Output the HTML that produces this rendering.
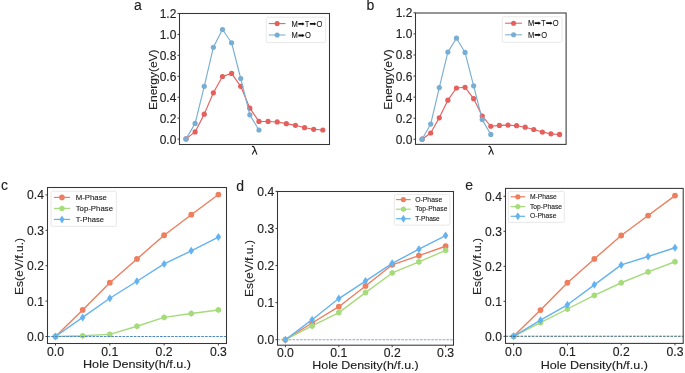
<!DOCTYPE html>
<html><head><meta charset="utf-8"><style>
html,body{margin:0;padding:0;background:#fff;}
body{width:685px;height:373px;overflow:hidden;}
svg{display:block;font-family:"Liberation Sans", sans-serif;will-change:transform;}
svg text{stroke:#202020;stroke-width:0.12px;}
</style></head><body>
<svg width="685" height="373" viewBox="0 0 685 373">
<rect width="685" height="373" fill="#fff"/>
<rect x="179.50" y="13.50" width="150.00" height="131.00" fill="none" stroke="#363636" stroke-width="1.05"/>
<line x1="177.50" y1="139.10" x2="179.50" y2="139.10" stroke="#363636" stroke-width="0.95"/>
<text x="176.30" y="143.60" font-size="12.0" text-anchor="end" textLength="16.60" lengthAdjust="spacingAndGlyphs" fill="#202020">0.0</text>
<line x1="177.50" y1="118.17" x2="179.50" y2="118.17" stroke="#363636" stroke-width="0.95"/>
<text x="176.30" y="122.67" font-size="12.0" text-anchor="end" textLength="16.60" lengthAdjust="spacingAndGlyphs" fill="#202020">0.2</text>
<line x1="177.50" y1="97.23" x2="179.50" y2="97.23" stroke="#363636" stroke-width="0.95"/>
<text x="176.30" y="101.73" font-size="12.0" text-anchor="end" textLength="16.60" lengthAdjust="spacingAndGlyphs" fill="#202020">0.4</text>
<line x1="177.50" y1="76.30" x2="179.50" y2="76.30" stroke="#363636" stroke-width="0.95"/>
<text x="176.30" y="80.80" font-size="12.0" text-anchor="end" textLength="16.60" lengthAdjust="spacingAndGlyphs" fill="#202020">0.6</text>
<line x1="177.50" y1="55.37" x2="179.50" y2="55.37" stroke="#363636" stroke-width="0.95"/>
<text x="176.30" y="59.87" font-size="12.0" text-anchor="end" textLength="16.60" lengthAdjust="spacingAndGlyphs" fill="#202020">0.8</text>
<line x1="177.50" y1="34.43" x2="179.50" y2="34.43" stroke="#363636" stroke-width="0.95"/>
<text x="176.30" y="38.93" font-size="12.0" text-anchor="end" textLength="16.60" lengthAdjust="spacingAndGlyphs" fill="#202020">1.0</text>
<line x1="177.50" y1="13.50" x2="179.50" y2="13.50" stroke="#363636" stroke-width="0.95"/>
<text x="176.30" y="18.00" font-size="12.0" text-anchor="end" textLength="16.60" lengthAdjust="spacingAndGlyphs" fill="#202020">1.2</text>
<path d="M186.00,138.90 L195.12,131.90 L204.24,114.13 L213.36,92.82 L222.48,76.51 L231.60,73.38 L240.72,86.34 L249.84,108.18 L258.96,121.45 L268.08,121.45 L277.20,121.97 L286.32,123.64 L295.44,125.31 L304.56,127.72 L313.68,129.29 L322.80,130.02" fill="none" stroke="#e55f5d" stroke-width="1.15" stroke-linejoin="round"/>
<circle cx="186.00" cy="138.90" r="2.6" fill="#e55f5d"/>
<circle cx="195.12" cy="131.90" r="2.6" fill="#e55f5d"/>
<circle cx="204.24" cy="114.13" r="2.6" fill="#e55f5d"/>
<circle cx="213.36" cy="92.82" r="2.6" fill="#e55f5d"/>
<circle cx="222.48" cy="76.51" r="2.6" fill="#e55f5d"/>
<circle cx="231.60" cy="73.38" r="2.6" fill="#e55f5d"/>
<circle cx="240.72" cy="86.34" r="2.6" fill="#e55f5d"/>
<circle cx="249.84" cy="108.18" r="2.6" fill="#e55f5d"/>
<circle cx="258.96" cy="121.45" r="2.6" fill="#e55f5d"/>
<circle cx="268.08" cy="121.45" r="2.6" fill="#e55f5d"/>
<circle cx="277.20" cy="121.97" r="2.6" fill="#e55f5d"/>
<circle cx="286.32" cy="123.64" r="2.6" fill="#e55f5d"/>
<circle cx="295.44" cy="125.31" r="2.6" fill="#e55f5d"/>
<circle cx="304.56" cy="127.72" r="2.6" fill="#e55f5d"/>
<circle cx="313.68" cy="129.29" r="2.6" fill="#e55f5d"/>
<circle cx="322.80" cy="130.02" r="2.6" fill="#e55f5d"/>
<path d="M186.00,138.90 L195.12,123.43 L204.24,86.34 L213.36,47.36 L222.48,29.49 L231.60,42.76 L240.72,78.50 L249.84,114.87 L258.96,130.02" fill="none" stroke="#79aed4" stroke-width="1.15" stroke-linejoin="round"/>
<circle cx="186.00" cy="138.90" r="2.6" fill="#79aed4"/>
<circle cx="195.12" cy="123.43" r="2.6" fill="#79aed4"/>
<circle cx="204.24" cy="86.34" r="2.6" fill="#79aed4"/>
<circle cx="213.36" cy="47.36" r="2.6" fill="#79aed4"/>
<circle cx="222.48" cy="29.49" r="2.6" fill="#79aed4"/>
<circle cx="231.60" cy="42.76" r="2.6" fill="#79aed4"/>
<circle cx="240.72" cy="78.50" r="2.6" fill="#79aed4"/>
<circle cx="249.84" cy="114.87" r="2.6" fill="#79aed4"/>
<circle cx="258.96" cy="130.02" r="2.6" fill="#79aed4"/>
<rect x="266.30" y="17.20" width="59.40" height="25.40" rx="1.5" fill="#fff" fill-opacity="0.8" stroke="#e2e2e2" stroke-width="0.8"/>
<line x1="268.80" y1="23.60" x2="285.50" y2="23.60" stroke="#e55f5d" stroke-width="1.05"/>
<circle cx="277.15" cy="23.60" r="2.55" fill="#e55f5d"/>
<line x1="268.80" y1="35.00" x2="285.50" y2="35.00" stroke="#79aed4" stroke-width="1.05"/>
<circle cx="277.15" cy="35.00" r="2.55" fill="#79aed4"/>
<text x="291.60" y="26.90" font-size="8.6" text-anchor="start" textLength="6.30" lengthAdjust="spacingAndGlyphs" fill="#202020">M</text>
<path d="M298.30,23.00 L302.30,23.00 L302.30,22.25 L304.60,23.90 L302.30,25.55 L302.30,24.80 L298.30,24.80 Z" fill="#111"/>
<text x="304.90" y="26.90" font-size="8.6" text-anchor="start" textLength="4.20" lengthAdjust="spacingAndGlyphs" fill="#202020">T</text>
<path d="M309.90,23.00 L314.00,23.00 L314.00,22.25 L316.30,23.90 L314.00,25.55 L314.00,24.80 L309.90,24.80 Z" fill="#111"/>
<text x="316.40" y="26.90" font-size="8.6" text-anchor="start" textLength="5.90" lengthAdjust="spacingAndGlyphs" fill="#202020">O</text>
<text x="291.60" y="37.70" font-size="8.6" text-anchor="start" textLength="6.30" lengthAdjust="spacingAndGlyphs" fill="#202020">M</text>
<path d="M298.40,34.60 L302.30,34.60 L302.30,33.85 L304.60,35.50 L302.30,37.15 L302.30,36.40 L298.40,36.40 Z" fill="#111"/>
<text x="304.90" y="37.70" font-size="8.6" text-anchor="start" textLength="5.90" lengthAdjust="spacingAndGlyphs" fill="#202020">O</text>
<path d="M251.90,146.5 Q253.60,146.1 254.15,147.5 L256.95,154.6 M254.75,149.7 L252.20,154.6" fill="none" stroke="#202020" stroke-width="1.15" stroke-linecap="butt"/>
<text transform="translate(156.50,79.70) rotate(-90)" x="0" y="0" font-size="11.5" text-anchor="middle" textLength="60.50" lengthAdjust="spacingAndGlyphs" fill="#202020">Energy(eV)</text>
<text x="134.00" y="10.10" font-size="14" text-anchor="start" fill="#202020">a</text>
<rect x="415.50" y="13.00" width="150.60" height="131.40" fill="none" stroke="#363636" stroke-width="1.05"/>
<line x1="413.50" y1="139.30" x2="415.50" y2="139.30" stroke="#363636" stroke-width="0.95"/>
<text x="412.30" y="143.80" font-size="12.0" text-anchor="end" textLength="16.60" lengthAdjust="spacingAndGlyphs" fill="#202020">0.0</text>
<line x1="413.50" y1="118.22" x2="415.50" y2="118.22" stroke="#363636" stroke-width="0.95"/>
<text x="412.30" y="122.72" font-size="12.0" text-anchor="end" textLength="16.60" lengthAdjust="spacingAndGlyphs" fill="#202020">0.2</text>
<line x1="413.50" y1="97.13" x2="415.50" y2="97.13" stroke="#363636" stroke-width="0.95"/>
<text x="412.30" y="101.63" font-size="12.0" text-anchor="end" textLength="16.60" lengthAdjust="spacingAndGlyphs" fill="#202020">0.4</text>
<line x1="413.50" y1="76.05" x2="415.50" y2="76.05" stroke="#363636" stroke-width="0.95"/>
<text x="412.30" y="80.55" font-size="12.0" text-anchor="end" textLength="16.60" lengthAdjust="spacingAndGlyphs" fill="#202020">0.6</text>
<line x1="413.50" y1="54.97" x2="415.50" y2="54.97" stroke="#363636" stroke-width="0.95"/>
<text x="412.30" y="59.47" font-size="12.0" text-anchor="end" textLength="16.60" lengthAdjust="spacingAndGlyphs" fill="#202020">0.8</text>
<line x1="413.50" y1="33.88" x2="415.50" y2="33.88" stroke="#363636" stroke-width="0.95"/>
<text x="412.30" y="38.38" font-size="12.0" text-anchor="end" textLength="16.60" lengthAdjust="spacingAndGlyphs" fill="#202020">1.0</text>
<line x1="413.50" y1="12.80" x2="415.50" y2="12.80" stroke="#363636" stroke-width="0.95"/>
<text x="412.30" y="17.30" font-size="12.0" text-anchor="end" textLength="16.60" lengthAdjust="spacingAndGlyphs" fill="#202020">1.2</text>
<path d="M422.10,139.20 L430.69,132.99 L439.28,117.82 L447.87,100.13 L456.46,88.02 L465.05,87.29 L473.64,98.66 L482.23,116.03 L490.82,126.25 L499.41,125.41 L508.00,125.09 L516.59,125.72 L525.18,127.20 L533.77,129.51 L542.36,132.04 L550.95,133.83 L559.54,134.46" fill="none" stroke="#e55f5d" stroke-width="1.15" stroke-linejoin="round"/>
<circle cx="422.10" cy="139.20" r="2.6" fill="#e55f5d"/>
<circle cx="430.69" cy="132.99" r="2.6" fill="#e55f5d"/>
<circle cx="439.28" cy="117.82" r="2.6" fill="#e55f5d"/>
<circle cx="447.87" cy="100.13" r="2.6" fill="#e55f5d"/>
<circle cx="456.46" cy="88.02" r="2.6" fill="#e55f5d"/>
<circle cx="465.05" cy="87.29" r="2.6" fill="#e55f5d"/>
<circle cx="473.64" cy="98.66" r="2.6" fill="#e55f5d"/>
<circle cx="482.23" cy="116.03" r="2.6" fill="#e55f5d"/>
<circle cx="490.82" cy="126.25" r="2.6" fill="#e55f5d"/>
<circle cx="499.41" cy="125.41" r="2.6" fill="#e55f5d"/>
<circle cx="508.00" cy="125.09" r="2.6" fill="#e55f5d"/>
<circle cx="516.59" cy="125.72" r="2.6" fill="#e55f5d"/>
<circle cx="525.18" cy="127.20" r="2.6" fill="#e55f5d"/>
<circle cx="533.77" cy="129.51" r="2.6" fill="#e55f5d"/>
<circle cx="542.36" cy="132.04" r="2.6" fill="#e55f5d"/>
<circle cx="550.95" cy="133.83" r="2.6" fill="#e55f5d"/>
<circle cx="559.54" cy="134.46" r="2.6" fill="#e55f5d"/>
<path d="M422.10,139.20 L430.69,124.04 L439.28,87.60 L447.87,52.12 L456.46,38.22 L465.05,52.43 L473.64,85.81 L482.23,119.61 L490.82,134.46" fill="none" stroke="#79aed4" stroke-width="1.15" stroke-linejoin="round"/>
<circle cx="422.10" cy="139.20" r="2.6" fill="#79aed4"/>
<circle cx="430.69" cy="124.04" r="2.6" fill="#79aed4"/>
<circle cx="439.28" cy="87.60" r="2.6" fill="#79aed4"/>
<circle cx="447.87" cy="52.12" r="2.6" fill="#79aed4"/>
<circle cx="456.46" cy="38.22" r="2.6" fill="#79aed4"/>
<circle cx="465.05" cy="52.43" r="2.6" fill="#79aed4"/>
<circle cx="473.64" cy="85.81" r="2.6" fill="#79aed4"/>
<circle cx="482.23" cy="119.61" r="2.6" fill="#79aed4"/>
<circle cx="490.82" cy="134.46" r="2.6" fill="#79aed4"/>
<rect x="502.30" y="16.80" width="59.70" height="25.50" rx="1.5" fill="#fff" fill-opacity="0.8" stroke="#e2e2e2" stroke-width="0.8"/>
<line x1="505.10" y1="23.20" x2="522.00" y2="23.20" stroke="#e55f5d" stroke-width="1.05"/>
<circle cx="513.55" cy="23.20" r="2.55" fill="#e55f5d"/>
<line x1="505.10" y1="34.80" x2="522.00" y2="34.80" stroke="#79aed4" stroke-width="1.05"/>
<circle cx="513.55" cy="34.80" r="2.55" fill="#79aed4"/>
<text x="527.90" y="25.80" font-size="8.6" text-anchor="start" textLength="6.30" lengthAdjust="spacingAndGlyphs" fill="#202020">M</text>
<path d="M534.60,22.30 L538.60,22.30 L538.60,21.55 L540.90,23.20 L538.60,24.85 L538.60,24.10 L534.60,24.10 Z" fill="#111"/>
<text x="541.20" y="25.80" font-size="8.6" text-anchor="start" textLength="4.20" lengthAdjust="spacingAndGlyphs" fill="#202020">T</text>
<path d="M546.20,22.30 L550.30,22.30 L550.30,21.55 L552.60,23.20 L550.30,24.85 L550.30,24.10 L546.20,24.10 Z" fill="#111"/>
<text x="552.70" y="25.80" font-size="8.6" text-anchor="start" textLength="5.90" lengthAdjust="spacingAndGlyphs" fill="#202020">O</text>
<text x="527.90" y="37.90" font-size="8.6" text-anchor="start" textLength="6.30" lengthAdjust="spacingAndGlyphs" fill="#202020">M</text>
<path d="M534.70,34.00 L538.60,34.00 L538.60,33.25 L540.90,34.90 L538.60,36.55 L538.60,35.80 L534.70,35.80 Z" fill="#111"/>
<text x="541.20" y="37.90" font-size="8.6" text-anchor="start" textLength="5.90" lengthAdjust="spacingAndGlyphs" fill="#202020">O</text>
<path d="M488.40,146.5 Q490.10,146.1 490.65,147.5 L493.45,154.6 M491.25,149.7 L488.70,154.6" fill="none" stroke="#202020" stroke-width="1.15" stroke-linecap="butt"/>
<text transform="translate(392.30,79.40) rotate(-90)" x="0" y="0" font-size="11.5" text-anchor="middle" textLength="60.50" lengthAdjust="spacingAndGlyphs" fill="#202020">Energy(eV)</text>
<text x="366.60" y="9.90" font-size="14" text-anchor="start" fill="#202020">b</text>
<path d="M55.50,336.50 L82.65,309.95 L109.80,282.69 L136.95,258.97 L164.10,235.26 L191.25,214.72 L218.40,194.55" fill="none" stroke="#ee7e5e" stroke-width="1.4" stroke-linejoin="round"/>
<circle cx="55.50" cy="336.50" r="2.9" fill="#ee7e5e"/>
<circle cx="82.65" cy="309.95" r="2.9" fill="#ee7e5e"/>
<circle cx="109.80" cy="282.69" r="2.9" fill="#ee7e5e"/>
<circle cx="136.95" cy="258.97" r="2.9" fill="#ee7e5e"/>
<circle cx="164.10" cy="235.26" r="2.9" fill="#ee7e5e"/>
<circle cx="191.25" cy="214.72" r="2.9" fill="#ee7e5e"/>
<circle cx="218.40" cy="194.55" r="2.9" fill="#ee7e5e"/>
<path d="M55.50,336.50 L82.65,335.79 L109.80,334.38 L136.95,326.23 L164.10,317.38 L191.25,313.49 L218.40,309.95" fill="none" stroke="#a5db7b" stroke-width="1.4" stroke-linejoin="round"/>
<polygon points="55.50,333.35 52.77,334.93 52.77,338.07 55.50,339.65 58.23,338.07 58.23,334.93" fill="#a5db7b"/>
<polygon points="82.65,332.64 79.92,334.22 79.92,337.37 82.65,338.94 85.38,337.37 85.38,334.22" fill="#a5db7b"/>
<polygon points="109.80,331.23 107.07,332.80 107.07,335.95 109.80,337.53 112.53,335.95 112.53,332.80" fill="#a5db7b"/>
<polygon points="136.95,323.08 134.22,324.66 134.22,327.81 136.95,329.38 139.68,327.81 139.68,324.66" fill="#a5db7b"/>
<polygon points="164.10,314.23 161.37,315.81 161.37,318.96 164.10,320.53 166.83,318.96 166.83,315.81" fill="#a5db7b"/>
<polygon points="191.25,310.34 188.52,311.92 188.52,315.06 191.25,316.64 193.98,315.06 193.98,311.92" fill="#a5db7b"/>
<polygon points="218.40,306.80 215.67,308.38 215.67,311.52 218.40,313.10 221.13,311.52 221.13,308.38" fill="#a5db7b"/>
<path d="M55.50,336.50 L82.65,317.38 L109.80,298.27 L136.95,281.28 L164.10,263.93 L191.25,250.83 L218.40,237.03" fill="none" stroke="#64b3f0" stroke-width="1.4" stroke-linejoin="round"/>
<polygon points="55.50,332.50 58.25,336.50 55.50,340.50 52.75,336.50" fill="#64b3f0"/>
<polygon points="82.65,313.38 85.40,317.38 82.65,321.38 79.90,317.38" fill="#64b3f0"/>
<polygon points="109.80,294.27 112.55,298.27 109.80,302.27 107.05,298.27" fill="#64b3f0"/>
<polygon points="136.95,277.28 139.70,281.28 136.95,285.28 134.20,281.28" fill="#64b3f0"/>
<polygon points="164.10,259.93 166.85,263.93 164.10,267.93 161.35,263.93" fill="#64b3f0"/>
<polygon points="191.25,246.83 194.00,250.83 191.25,254.83 188.50,250.83" fill="#64b3f0"/>
<polygon points="218.40,233.03 221.15,237.03 218.40,241.03 215.65,237.03" fill="#64b3f0"/>
<line x1="47.50" y1="336.50" x2="226.50" y2="336.50" stroke="#5087c4" stroke-width="1.05" stroke-dasharray="2.65,1.1"/>
<rect x="47.50" y="187.50" width="179.00" height="156.00" fill="none" stroke="#363636" stroke-width="1.05"/>
<line x1="45.50" y1="336.50" x2="47.50" y2="336.50" stroke="#363636" stroke-width="0.95"/>
<text x="44.00" y="340.90" font-size="12.0" text-anchor="end" textLength="16.90" lengthAdjust="spacingAndGlyphs" fill="#202020">0.0</text>
<line x1="45.50" y1="301.10" x2="47.50" y2="301.10" stroke="#363636" stroke-width="0.95"/>
<text x="44.00" y="305.50" font-size="12.0" text-anchor="end" textLength="16.90" lengthAdjust="spacingAndGlyphs" fill="#202020">0.1</text>
<line x1="45.50" y1="265.70" x2="47.50" y2="265.70" stroke="#363636" stroke-width="0.95"/>
<text x="44.00" y="270.10" font-size="12.0" text-anchor="end" textLength="16.90" lengthAdjust="spacingAndGlyphs" fill="#202020">0.2</text>
<line x1="45.50" y1="230.30" x2="47.50" y2="230.30" stroke="#363636" stroke-width="0.95"/>
<text x="44.00" y="234.70" font-size="12.0" text-anchor="end" textLength="16.90" lengthAdjust="spacingAndGlyphs" fill="#202020">0.3</text>
<line x1="45.50" y1="194.90" x2="47.50" y2="194.90" stroke="#363636" stroke-width="0.95"/>
<text x="44.00" y="199.30" font-size="12.0" text-anchor="end" textLength="16.90" lengthAdjust="spacingAndGlyphs" fill="#202020">0.4</text>
<line x1="55.50" y1="343.50" x2="55.50" y2="345.50" stroke="#363636" stroke-width="0.95"/>
<text x="55.50" y="356.30" font-size="12.0" text-anchor="middle" textLength="17.00" lengthAdjust="spacingAndGlyphs" fill="#202020">0.0</text>
<line x1="109.80" y1="343.50" x2="109.80" y2="345.50" stroke="#363636" stroke-width="0.95"/>
<text x="109.80" y="356.30" font-size="12.0" text-anchor="middle" textLength="17.00" lengthAdjust="spacingAndGlyphs" fill="#202020">0.1</text>
<line x1="164.10" y1="343.50" x2="164.10" y2="345.50" stroke="#363636" stroke-width="0.95"/>
<text x="164.10" y="356.30" font-size="12.0" text-anchor="middle" textLength="17.00" lengthAdjust="spacingAndGlyphs" fill="#202020">0.2</text>
<line x1="218.40" y1="343.50" x2="218.40" y2="345.50" stroke="#363636" stroke-width="0.95"/>
<text x="218.40" y="356.30" font-size="12.0" text-anchor="middle" textLength="17.00" lengthAdjust="spacingAndGlyphs" fill="#202020">0.3</text>
<text x="137.00" y="368.30" font-size="11.3" text-anchor="middle" textLength="108.00" lengthAdjust="spacingAndGlyphs" fill="#202020">Hole Density(h/f.u.)</text>
<text transform="translate(22.60,266.50) rotate(-90)" x="0" y="0" font-size="11.5" text-anchor="middle" textLength="57.00" lengthAdjust="spacingAndGlyphs" fill="#202020">Es(eV/f.u.)</text>
<text x="1.00" y="190.10" font-size="14" text-anchor="start" fill="#202020">c</text>
<rect x="51.00" y="191.20" width="65.40" height="35.20" rx="1.5" fill="#fff" fill-opacity="0.8" stroke="#e2e2e2" stroke-width="0.8"/>
<line x1="53.90" y1="197.40" x2="70.00" y2="197.40" stroke="#ee7e5e" stroke-width="1.2"/>
<circle cx="61.95" cy="197.40" r="2.8" fill="#ee7e5e"/>
<text x="75.70" y="199.75" font-size="8.1" text-anchor="start" textLength="31.20" lengthAdjust="spacingAndGlyphs" fill="#202020">M-Phase</text>
<line x1="53.90" y1="208.40" x2="70.00" y2="208.40" stroke="#a5db7b" stroke-width="1.2"/>
<polygon points="61.95,205.38 59.33,206.89 59.33,209.91 61.95,211.42 64.57,209.91 64.57,206.89" fill="#a5db7b"/>
<text x="75.70" y="210.75" font-size="8.1" text-anchor="start" textLength="37.30" lengthAdjust="spacingAndGlyphs" fill="#202020">Top-Phase</text>
<line x1="53.90" y1="219.40" x2="70.00" y2="219.40" stroke="#64b3f0" stroke-width="1.2"/>
<polygon points="61.95,215.40 64.50,219.40 61.95,223.40 59.40,219.40" fill="#64b3f0"/>
<text x="75.70" y="221.75" font-size="8.1" text-anchor="start" textLength="28.20" lengthAdjust="spacingAndGlyphs" fill="#202020">T-Phase</text>
<path d="M285.40,339.70 L312.10,323.02 L338.80,306.70 L365.50,285.94 L392.20,264.81 L418.90,255.54 L445.60,246.27" fill="none" stroke="#ee7e5e" stroke-width="1.4" stroke-linejoin="round"/>
<circle cx="285.40" cy="339.70" r="2.9" fill="#ee7e5e"/>
<circle cx="312.10" cy="323.02" r="2.9" fill="#ee7e5e"/>
<circle cx="338.80" cy="306.70" r="2.9" fill="#ee7e5e"/>
<circle cx="365.50" cy="285.94" r="2.9" fill="#ee7e5e"/>
<circle cx="392.20" cy="264.81" r="2.9" fill="#ee7e5e"/>
<circle cx="418.90" cy="255.54" r="2.9" fill="#ee7e5e"/>
<circle cx="445.60" cy="246.27" r="2.9" fill="#ee7e5e"/>
<path d="M285.40,339.70 L312.10,325.98 L338.80,312.64 L365.50,292.61 L392.20,272.96 L418.90,261.84 L445.60,250.35" fill="none" stroke="#a5db7b" stroke-width="1.4" stroke-linejoin="round"/>
<polygon points="285.40,336.55 282.67,338.12 282.67,341.27 285.40,342.85 288.13,341.27 288.13,338.12" fill="#a5db7b"/>
<polygon points="312.10,322.83 309.37,324.41 309.37,327.56 312.10,329.13 314.83,327.56 314.83,324.41" fill="#a5db7b"/>
<polygon points="338.80,309.49 336.07,311.06 336.07,314.21 338.80,315.79 341.53,314.21 341.53,311.06" fill="#a5db7b"/>
<polygon points="365.50,289.46 362.77,291.04 362.77,294.19 365.50,295.76 368.23,294.19 368.23,291.04" fill="#a5db7b"/>
<polygon points="392.20,269.81 389.47,271.39 389.47,274.54 392.20,276.11 394.93,274.54 394.93,271.39" fill="#a5db7b"/>
<polygon points="418.90,258.69 416.17,260.27 416.17,263.42 418.90,264.99 421.63,263.42 421.63,260.27" fill="#a5db7b"/>
<polygon points="445.60,247.20 442.87,248.77 442.87,251.92 445.60,253.50 448.33,251.92 448.33,248.77" fill="#a5db7b"/>
<path d="M285.40,339.70 L312.10,319.68 L338.80,298.55 L365.50,281.12 L392.20,263.33 L418.90,249.24 L445.60,235.52" fill="none" stroke="#64b3f0" stroke-width="1.4" stroke-linejoin="round"/>
<polygon points="285.40,335.70 288.15,339.70 285.40,343.70 282.65,339.70" fill="#64b3f0"/>
<polygon points="312.10,315.68 314.85,319.68 312.10,323.68 309.35,319.68" fill="#64b3f0"/>
<polygon points="338.80,294.55 341.55,298.55 338.80,302.55 336.05,298.55" fill="#64b3f0"/>
<polygon points="365.50,277.12 368.25,281.12 365.50,285.12 362.75,281.12" fill="#64b3f0"/>
<polygon points="392.20,259.33 394.95,263.33 392.20,267.33 389.45,263.33" fill="#64b3f0"/>
<polygon points="418.90,245.24 421.65,249.24 418.90,253.24 416.15,249.24" fill="#64b3f0"/>
<polygon points="445.60,231.52 448.35,235.52 445.60,239.52 442.85,235.52" fill="#64b3f0"/>
<line x1="277.50" y1="339.70" x2="453.50" y2="339.70" stroke="#86a9d0" stroke-width="1.05" stroke-dasharray="2.65,1.1"/>
<rect x="277.50" y="191.50" width="176.00" height="153.70" fill="none" stroke="#363636" stroke-width="1.05"/>
<line x1="275.50" y1="339.70" x2="277.50" y2="339.70" stroke="#363636" stroke-width="0.95"/>
<text x="274.20" y="344.10" font-size="12.0" text-anchor="end" textLength="16.90" lengthAdjust="spacingAndGlyphs" fill="#202020">0.0</text>
<line x1="275.50" y1="302.62" x2="277.50" y2="302.62" stroke="#363636" stroke-width="0.95"/>
<text x="274.20" y="307.02" font-size="12.0" text-anchor="end" textLength="16.90" lengthAdjust="spacingAndGlyphs" fill="#202020">0.1</text>
<line x1="275.50" y1="265.55" x2="277.50" y2="265.55" stroke="#363636" stroke-width="0.95"/>
<text x="274.20" y="269.95" font-size="12.0" text-anchor="end" textLength="16.90" lengthAdjust="spacingAndGlyphs" fill="#202020">0.2</text>
<line x1="275.50" y1="228.47" x2="277.50" y2="228.47" stroke="#363636" stroke-width="0.95"/>
<text x="274.20" y="232.87" font-size="12.0" text-anchor="end" textLength="16.90" lengthAdjust="spacingAndGlyphs" fill="#202020">0.3</text>
<line x1="275.50" y1="191.40" x2="277.50" y2="191.40" stroke="#363636" stroke-width="0.95"/>
<text x="274.20" y="195.80" font-size="12.0" text-anchor="end" textLength="16.90" lengthAdjust="spacingAndGlyphs" fill="#202020">0.4</text>
<line x1="285.40" y1="345.20" x2="285.40" y2="347.20" stroke="#363636" stroke-width="0.95"/>
<text x="285.40" y="357.30" font-size="12.0" text-anchor="middle" textLength="17.00" lengthAdjust="spacingAndGlyphs" fill="#202020">0.0</text>
<line x1="338.80" y1="345.20" x2="338.80" y2="347.20" stroke="#363636" stroke-width="0.95"/>
<text x="338.80" y="357.30" font-size="12.0" text-anchor="middle" textLength="17.00" lengthAdjust="spacingAndGlyphs" fill="#202020">0.1</text>
<line x1="392.20" y1="345.20" x2="392.20" y2="347.20" stroke="#363636" stroke-width="0.95"/>
<text x="392.20" y="357.30" font-size="12.0" text-anchor="middle" textLength="17.00" lengthAdjust="spacingAndGlyphs" fill="#202020">0.2</text>
<line x1="445.60" y1="345.20" x2="445.60" y2="347.20" stroke="#363636" stroke-width="0.95"/>
<text x="445.60" y="357.30" font-size="12.0" text-anchor="middle" textLength="17.00" lengthAdjust="spacingAndGlyphs" fill="#202020">0.3</text>
<text x="365.50" y="368.90" font-size="11.3" text-anchor="middle" textLength="106.40" lengthAdjust="spacingAndGlyphs" fill="#202020">Hole Density(h/f.u.)</text>
<text transform="translate(253.30,268.60) rotate(-90)" x="0" y="0" font-size="11.5" text-anchor="middle" textLength="57.00" lengthAdjust="spacingAndGlyphs" fill="#202020">Es(eV/f.u.)</text>
<text x="236.30" y="190.70" font-size="14" text-anchor="start" fill="#202020">d</text>
<rect x="394.30" y="194.40" width="55.60" height="30.70" rx="1.5" fill="#fff" fill-opacity="0.8" stroke="#e2e2e2" stroke-width="0.8"/>
<line x1="396.10" y1="199.60" x2="410.70" y2="199.60" stroke="#ee7e5e" stroke-width="1.2"/>
<circle cx="403.40" cy="199.60" r="2.65" fill="#ee7e5e"/>
<text x="415.20" y="201.72" font-size="7.3" text-anchor="start" textLength="27.00" lengthAdjust="spacingAndGlyphs" fill="#202020">O-Phase</text>
<line x1="396.10" y1="209.20" x2="410.70" y2="209.20" stroke="#a5db7b" stroke-width="1.2"/>
<polygon points="403.40,206.34 400.92,207.77 400.92,210.63 403.40,212.06 405.88,210.63 405.88,207.77" fill="#a5db7b"/>
<text x="415.20" y="211.32" font-size="7.3" text-anchor="start" textLength="32.20" lengthAdjust="spacingAndGlyphs" fill="#202020">Top-Phase</text>
<line x1="396.10" y1="218.70" x2="410.70" y2="218.70" stroke="#64b3f0" stroke-width="1.2"/>
<polygon points="403.40,214.70 405.95,218.70 403.40,222.70 400.85,218.70" fill="#64b3f0"/>
<text x="415.20" y="220.82" font-size="7.3" text-anchor="start" textLength="24.60" lengthAdjust="spacingAndGlyphs" fill="#202020">T-Phase</text>
<path d="M513.60,336.30 L540.50,310.05 L567.40,282.75 L594.30,258.95 L621.20,235.50 L648.10,215.55 L675.00,195.60" fill="none" stroke="#ee7e5e" stroke-width="1.4" stroke-linejoin="round"/>
<circle cx="513.60" cy="336.30" r="2.9" fill="#ee7e5e"/>
<circle cx="540.50" cy="310.05" r="2.9" fill="#ee7e5e"/>
<circle cx="567.40" cy="282.75" r="2.9" fill="#ee7e5e"/>
<circle cx="594.30" cy="258.95" r="2.9" fill="#ee7e5e"/>
<circle cx="621.20" cy="235.50" r="2.9" fill="#ee7e5e"/>
<circle cx="648.10" cy="215.55" r="2.9" fill="#ee7e5e"/>
<circle cx="675.00" cy="195.60" r="2.9" fill="#ee7e5e"/>
<path d="M513.60,336.30 L540.50,322.65 L567.40,309.00 L594.30,295.35 L621.20,282.75 L648.10,271.90 L675.00,261.75" fill="none" stroke="#a5db7b" stroke-width="1.4" stroke-linejoin="round"/>
<polygon points="513.60,333.15 510.87,334.73 510.87,337.88 513.60,339.45 516.33,337.88 516.33,334.73" fill="#a5db7b"/>
<polygon points="540.50,319.50 537.77,321.08 537.77,324.23 540.50,325.80 543.23,324.23 543.23,321.08" fill="#a5db7b"/>
<polygon points="567.40,305.85 564.67,307.43 564.67,310.57 567.40,312.15 570.13,310.57 570.13,307.43" fill="#a5db7b"/>
<polygon points="594.30,292.20 591.57,293.78 591.57,296.93 594.30,298.50 597.03,296.93 597.03,293.78" fill="#a5db7b"/>
<polygon points="621.20,279.60 618.47,281.18 618.47,284.32 621.20,285.90 623.93,284.32 623.93,281.18" fill="#a5db7b"/>
<polygon points="648.10,268.75 645.37,270.32 645.37,273.47 648.10,275.05 650.83,273.47 650.83,270.32" fill="#a5db7b"/>
<polygon points="675.00,258.60 672.27,260.18 672.27,263.32 675.00,264.90 677.73,263.32 677.73,260.18" fill="#a5db7b"/>
<path d="M513.60,336.30 L540.50,320.20 L567.40,304.80 L594.30,284.85 L621.20,264.90 L648.10,256.50 L675.00,247.75" fill="none" stroke="#64b3f0" stroke-width="1.4" stroke-linejoin="round"/>
<polygon points="513.60,332.30 516.35,336.30 513.60,340.30 510.85,336.30" fill="#64b3f0"/>
<polygon points="540.50,316.20 543.25,320.20 540.50,324.20 537.75,320.20" fill="#64b3f0"/>
<polygon points="567.40,300.80 570.15,304.80 567.40,308.80 564.65,304.80" fill="#64b3f0"/>
<polygon points="594.30,280.85 597.05,284.85 594.30,288.85 591.55,284.85" fill="#64b3f0"/>
<polygon points="621.20,260.90 623.95,264.90 621.20,268.90 618.45,264.90" fill="#64b3f0"/>
<polygon points="648.10,252.50 650.85,256.50 648.10,260.50 645.35,256.50" fill="#64b3f0"/>
<polygon points="675.00,243.75 677.75,247.75 675.00,251.75 672.25,247.75" fill="#64b3f0"/>
<line x1="505.50" y1="336.30" x2="683.20" y2="336.30" stroke="#345f6e" stroke-width="1.05" stroke-dasharray="2.65,1.1"/>
<rect x="505.50" y="188.40" width="177.70" height="155.00" fill="none" stroke="#363636" stroke-width="1.05"/>
<line x1="503.50" y1="336.30" x2="505.50" y2="336.30" stroke="#363636" stroke-width="0.95"/>
<text x="501.90" y="340.70" font-size="12.0" text-anchor="end" textLength="16.90" lengthAdjust="spacingAndGlyphs" fill="#202020">0.0</text>
<line x1="503.50" y1="301.30" x2="505.50" y2="301.30" stroke="#363636" stroke-width="0.95"/>
<text x="501.90" y="305.70" font-size="12.0" text-anchor="end" textLength="16.90" lengthAdjust="spacingAndGlyphs" fill="#202020">0.1</text>
<line x1="503.50" y1="266.30" x2="505.50" y2="266.30" stroke="#363636" stroke-width="0.95"/>
<text x="501.90" y="270.70" font-size="12.0" text-anchor="end" textLength="16.90" lengthAdjust="spacingAndGlyphs" fill="#202020">0.2</text>
<line x1="503.50" y1="231.30" x2="505.50" y2="231.30" stroke="#363636" stroke-width="0.95"/>
<text x="501.90" y="235.70" font-size="12.0" text-anchor="end" textLength="16.90" lengthAdjust="spacingAndGlyphs" fill="#202020">0.3</text>
<line x1="503.50" y1="196.30" x2="505.50" y2="196.30" stroke="#363636" stroke-width="0.95"/>
<text x="501.90" y="200.70" font-size="12.0" text-anchor="end" textLength="16.90" lengthAdjust="spacingAndGlyphs" fill="#202020">0.4</text>
<line x1="513.60" y1="343.40" x2="513.60" y2="345.40" stroke="#363636" stroke-width="0.95"/>
<text x="513.60" y="356.00" font-size="12.0" text-anchor="middle" textLength="17.00" lengthAdjust="spacingAndGlyphs" fill="#202020">0.0</text>
<line x1="567.40" y1="343.40" x2="567.40" y2="345.40" stroke="#363636" stroke-width="0.95"/>
<text x="567.40" y="356.00" font-size="12.0" text-anchor="middle" textLength="17.00" lengthAdjust="spacingAndGlyphs" fill="#202020">0.1</text>
<line x1="621.20" y1="343.40" x2="621.20" y2="345.40" stroke="#363636" stroke-width="0.95"/>
<text x="621.20" y="356.00" font-size="12.0" text-anchor="middle" textLength="17.00" lengthAdjust="spacingAndGlyphs" fill="#202020">0.2</text>
<line x1="675.00" y1="343.40" x2="675.00" y2="345.40" stroke="#363636" stroke-width="0.95"/>
<text x="675.00" y="356.00" font-size="12.0" text-anchor="middle" textLength="17.00" lengthAdjust="spacingAndGlyphs" fill="#202020">0.3</text>
<text x="594.35" y="368.50" font-size="11.3" text-anchor="middle" textLength="107.20" lengthAdjust="spacingAndGlyphs" fill="#202020">Hole Density(h/f.u.)</text>
<text transform="translate(480.60,266.50) rotate(-90)" x="0" y="0" font-size="11.5" text-anchor="middle" textLength="57.00" lengthAdjust="spacingAndGlyphs" fill="#202020">Es(eV/f.u.)</text>
<text x="465.30" y="190.10" font-size="14" text-anchor="start" fill="#202020">e</text>
<rect x="508.30" y="191.40" width="56.00" height="31.00" rx="1.5" fill="#fff" fill-opacity="0.8" stroke="#e2e2e2" stroke-width="0.8"/>
<line x1="510.60" y1="196.80" x2="525.10" y2="196.80" stroke="#ee7e5e" stroke-width="1.2"/>
<circle cx="517.85" cy="196.80" r="2.65" fill="#ee7e5e"/>
<text x="529.90" y="198.98" font-size="7.5" text-anchor="start" textLength="26.90" lengthAdjust="spacingAndGlyphs" fill="#202020">M-Phase</text>
<line x1="510.60" y1="206.60" x2="525.10" y2="206.60" stroke="#a5db7b" stroke-width="1.2"/>
<polygon points="517.85,203.74 515.37,205.17 515.37,208.03 517.85,209.46 520.33,208.03 520.33,205.17" fill="#a5db7b"/>
<text x="529.90" y="208.78" font-size="7.5" text-anchor="start" textLength="32.10" lengthAdjust="spacingAndGlyphs" fill="#202020">Top-Phase</text>
<line x1="510.60" y1="216.30" x2="525.10" y2="216.30" stroke="#64b3f0" stroke-width="1.2"/>
<polygon points="517.85,212.30 520.40,216.30 517.85,220.30 515.30,216.30" fill="#64b3f0"/>
<text x="529.90" y="218.48" font-size="7.5" text-anchor="start" textLength="26.60" lengthAdjust="spacingAndGlyphs" fill="#202020">O-Phase</text>
</svg>
</body></html>
